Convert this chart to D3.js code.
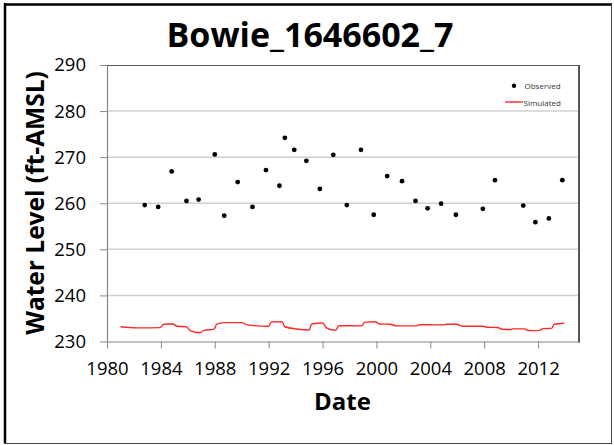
<!DOCTYPE html>
<html>
<head>
<meta charset="utf-8">
<script src="https://cdn.jsdelivr.net/npm/d3@7"></script>
<style>
  body { margin: 0; background: #fff; }
  text { font-family: "Open Sans", "Liberation Sans", sans-serif; }
</style>
</head>
<body>
<script>
const W = 614, H = 445;
const plot = {left: 107, right: 578.5, top: 65, bottom: 341.5};

// observed water levels (decimal year, ft-AMSL)
var obsYears = [1982.8, 1983.8, 1984.8, 1985.9, 1986.8, 1988.0, 1988.7, 1989.7, 1990.8, 1991.8,
    1992.8, 1993.2, 1993.9, 1994.8, 1995.8, 1996.8, 1997.8, 1998.85, 1999.8, 2000.8,
    2001.9, 2002.9, 2003.8, 2004.8, 2005.9, 2007.9, 2008.8, 2010.9, 2011.8, 2012.8, 2013.8];
var obsLevels = [259.6, 259.2, 266.9, 260.5, 260.8, 270.6, 257.3, 264.6, 259.2, 267.2,
    263.8, 274.2, 271.6, 269.2, 263.1, 270.5, 259.6, 271.6, 257.5, 265.9,
    264.8, 260.5, 258.9, 259.9, 257.5, 258.8, 265.0, 259.5, 255.9, 256.7, 265.0];

// simulated water levels
var simYears = [1981.0, 1982.2, 1983.95, 1984.2, 1984.9, 1985.2, 1985.9, 1986.2, 1986.9, 1987.2,
    1987.95, 1988.15, 1988.65, 1990.0, 1990.4, 1992.0, 1992.2, 1993.0, 1993.2, 1994.1,
    1995.0, 1995.2, 1996.0, 1996.3, 1996.8, 1997.0, 1997.2, 1998.9, 1999.15, 1999.9,
    2000.25, 2001.0, 2001.5, 2003.0, 2003.2, 2004.0, 2004.2, 2004.95, 2005.2, 2005.95,
    2006.4, 2007.9, 2008.2, 2009.0, 2009.3, 2010.0, 2010.1, 2011.0, 2011.25, 2012.0,
    2012.4, 2013.0, 2013.2, 2013.95];
var simLevels = [233.2, 232.95, 233.0, 233.75, 233.8, 233.3, 233.2, 232.3, 231.9, 232.4,
    232.7, 233.75, 234.1, 234.1, 233.6, 233.3, 234.25, 234.3, 233.2, 232.7,
    232.5, 233.8, 234.0, 232.95, 232.5, 232.5, 233.45, 233.4, 234.2, 234.3,
    233.8, 233.75, 233.4, 233.4, 233.65, 233.65, 233.6, 233.6, 233.75, 233.75,
    233.3, 233.3, 233.1, 233.05, 232.65, 232.6, 232.75, 232.75, 232.4, 232.35,
    232.8, 232.85, 233.75, 233.95];

var xTicks = [1980, 1984, 1988, 1992, 1996, 2000, 2004, 2008, 2012];
var yTicks = [230, 240, 250, 260, 270, 280, 290];
var seriesNames = ["Observed", "Simulated"];

var xScale = d3.scaleLinear().domain([1980, 2015]).range([plot.left, plot.right]);
var yScale = d3.scaleLinear().domain([230, 290]).range([plot.bottom, plot.top]);

var svg = d3.select("body").append("svg")
    .attr("width", W)
    .attr("height", H);

svg.append("rect").attr("width", W).attr("height", H).attr("fill", "#fff");

// outer frame
svg.append("line").attr("x1", 5).attr("x2", 5).attr("y1", 3).attr("y2", 443)
    .attr("stroke", "#000").attr("stroke-width", 2.5);
svg.append("line").attr("x1", 4).attr("x2", 612).attr("y1", 4.5).attr("y2", 4.5)
    .attr("stroke", "#000").attr("stroke-width", 2.5);
svg.append("line").attr("x1", 4).attr("x2", 612).attr("y1", 443.5).attr("y2", 443.5)
    .attr("stroke", "#444").attr("stroke-width", 1);
svg.append("line").attr("x1", 611.5).attr("x2", 611.5).attr("y1", 4).attr("y2", 444)
    .attr("stroke", "#444").attr("stroke-width", 1);

// gridlines
svg.append("g").selectAll("line")
    .data(yTicks.slice(1, -1))
    .enter().append("line")
    .attr("x1", plot.left).attr("x2", plot.right)
    .attr("y1", d => yScale(d)).attr("y2", d => yScale(d))
    .attr("stroke", "#d0d0d0").attr("stroke-width", 1.5);

// plot border top / right
svg.append("line").attr("x1", plot.left).attr("x2", plot.right + 1)
    .attr("y1", plot.top + 0.5).attr("y2", plot.top + 0.5)
    .attr("stroke", "#595959").attr("stroke-width", 1);
svg.append("line").attr("x1", plot.right + 0.5).attr("x2", plot.right + 0.5)
    .attr("y1", plot.top).attr("y2", plot.bottom + 1)
    .attr("stroke", "#555").attr("stroke-width", 2);

// axes
var xAxis = d3.axisBottom(xScale).tickValues(xTicks).tickFormat(d3.format("d"))
    .tickSize(7).tickSizeOuter(0).tickPadding(13);
var yAxis = d3.axisLeft(yScale).tickValues(yTicks)
    .tickSize(7).tickSizeOuter(0).tickPadding(14);

function styleAxis(g) {
    g.select(".domain").attr("stroke", "#868686").attr("stroke-width", 1.2);
    g.selectAll(".tick line").attr("stroke", "#868686");
    g.selectAll(".tick text").attr("fill", "#000")
        .style("font-size", "18.5px");
}

svg.append("g").attr("transform", "translate(0," + plot.bottom + ")")
    .call(xAxis).call(styleAxis);
svg.append("g").attr("transform", "translate(" + plot.left + ",0)")
    .call(yAxis).call(styleAxis);

// simulated line
var line = d3.line()
    .x((d, i) => xScale(simYears[i]))
    .y(d => yScale(d))
    .curve(d3.curveMonotoneX);

svg.append("path")
    .datum(simLevels)
    .attr("d", line)
    .attr("fill", "none")
    .attr("stroke", "#ff2a2a")
    .attr("stroke-width", 1.4);

// observed points
svg.append("g").selectAll("circle")
    .data(obsLevels)
    .enter().append("circle")
    .attr("cx", (d, i) => xScale(obsYears[i]))
    .attr("cy", d => yScale(d))
    .attr("r", 2.4)
    .attr("fill", "#000");

// titles
svg.append("text")
    .attr("x", 310).attr("y", 46.5)
    .attr("text-anchor", "middle")
    .style("font-size", "34px").style("font-weight", "bold")
    .text("Bowie_1646602_7");

svg.append("text")
    .attr("transform", "translate(43.5,203) rotate(-90)")
    .attr("text-anchor", "middle")
    .style("font-size", "24.5px").style("font-weight", "bold")
    .text("Water Level (ft-AMSL)");

svg.append("text")
    .attr("x", 342.5).attr("y", 410)
    .attr("text-anchor", "middle")
    .style("font-size", "24px").style("font-weight", "bold")
    .text("Date");

// legend
var legend = svg.append("g").style("font-size", "8px").attr("fill", "#333");
legend.append("circle").attr("cx", 514).attr("cy", 85.7).attr("r", 2.2).attr("fill", "#000");
legend.append("text").attr("x", 524.5).attr("y", 89).text(seriesNames[0]);
legend.append("line").attr("x1", 505).attr("x2", 523).attr("y1", 102).attr("y2", 102)
    .attr("stroke", "#ff2a2a").attr("stroke-width", 1.4);
legend.append("text").attr("x", 523.5).attr("y", 105.5).text(seriesNames[1]);
</script>
</body>
</html>
